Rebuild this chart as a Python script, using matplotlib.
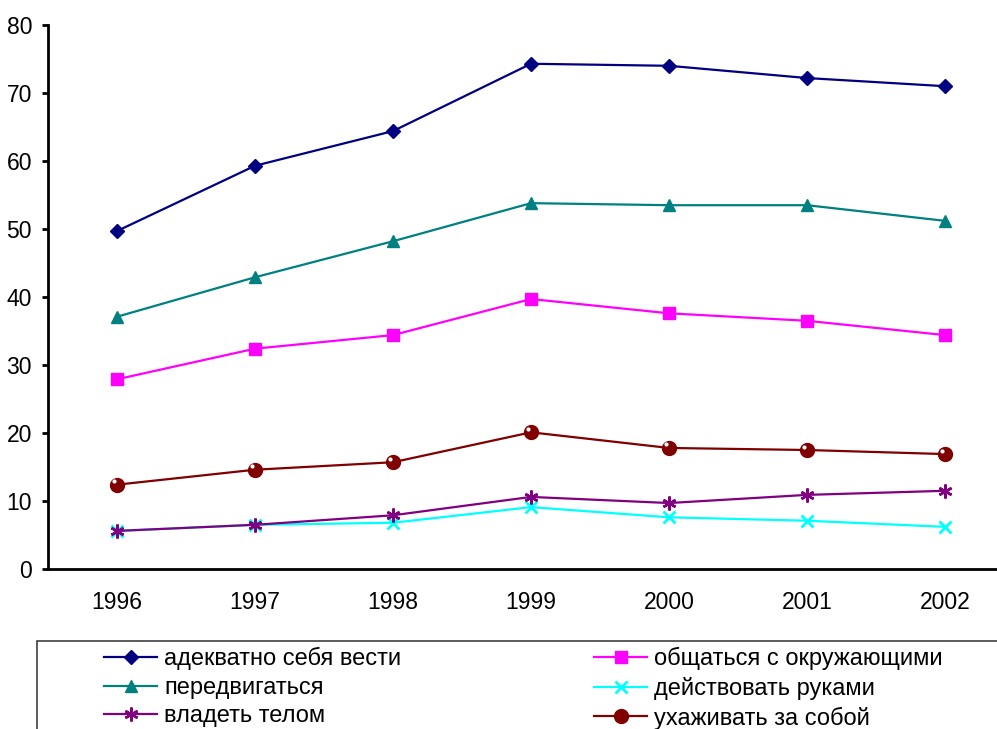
import matplotlib.pyplot as plt
from matplotlib.patches import Rectangle
from matplotlib.transforms import ScaledTranslation

plt.rcParams['font.family'] = ['Liberation Sans', 'DejaVu Sans']

years = [1996, 1997, 1998, 1999, 2000, 2001, 2002]

behave = [49.7, 59.3, 64.4, 74.3, 74.0, 72.2, 71.0]
communicate = [27.9, 32.4, 34.4, 39.7, 37.6, 36.5, 34.4]
move = [37.1, 42.9, 48.2, 53.8, 53.5, 53.5, 51.2]
hands = [5.6, 6.5, 6.8, 9.1, 7.6, 7.1, 6.2]
body = [5.6, 6.5, 7.9, 10.6, 9.7, 10.9, 11.5]
selfcare = [12.4, 14.6, 15.7, 20.1, 17.8, 17.5, 16.9]

fig = plt.figure(figsize=(9.97, 7.29), dpi=100)
W, H = 997, 729
ax = fig.add_axes([48 / W, (H - 569) / H, (1014 - 48) / W, (569 - 25) / H])

lw = 1.6
l1, = ax.plot(years, behave, color='#000080', lw=lw, marker='D', ms=7.5,
              label='адекватно себя вести')
l2, = ax.plot(years, communicate, color='#FF00FF', lw=lw, marker='s', ms=8,
              label='общаться с окружающими')
l3, = ax.plot(years, move, color='#008080', lw=lw, marker='^', ms=9,
              label='передвигаться')
l4, = ax.plot(years, hands, color='#00FFFF', lw=lw, marker='x', ms=9, mew=2,
              label='действовать руками')
l5, = ax.plot(years, body, color='#800080', lw=lw, marker=(6, 2, 0), ms=10,
              mew=1.8, label='владеть телом')
l6, = ax.plot(years, selfcare, color='#800000', lw=lw, marker='o', ms=10,
              mec='#800000', label='ухаживать за собой')
# small highlight on the ball markers
ax.plot(years, selfcare, ls='none', marker='o', ms=3, mfc='white', mec='none',
        transform=ax.transData + ScaledTranslation(-2.5 / 72, 2.5 / 72,
                                                   fig.dpi_scale_trans))

ax.set_xlim(1995.5, 2002.5)
ax.set_ylim(0, 80)
ax.set_yticks(range(0, 81, 10))
ax.set_xticks(years)
ax.spines['top'].set_visible(False)
ax.spines['right'].set_visible(False)
ax.spines['left'].set_linewidth(2)
ax.spines['bottom'].set_linewidth(2)
ax.tick_params(axis='y', direction='out', length=4.5, width=2, labelsize=16.5, pad=7)
ax.tick_params(axis='x', length=0, labelsize=16.5, pad=16)

# legend frame, running off the page edge
fig.add_artist(Rectangle((37 / W, -0.1), 1.0, (H - 641) / H + 0.1,
                         transform=fig.transFigure, fill=False,
                         edgecolor='#404040', lw=1.2))
leg_kw = dict(frameon=False, loc='upper left', fontsize=17, handlelength=2.25,
              handletextpad=0.3, labelspacing=0.28, borderpad=0,
              borderaxespad=0)
fig.legend(handles=[l1, l3, l5], bbox_to_anchor=(104 / W, (H - 647) / H),
           **leg_kw)
fig.legend(handles=[l2, l4, l6], bbox_to_anchor=(594 / W, (H - 647) / H),
           **leg_kw)

fig.savefig('out.png', dpi=100)
